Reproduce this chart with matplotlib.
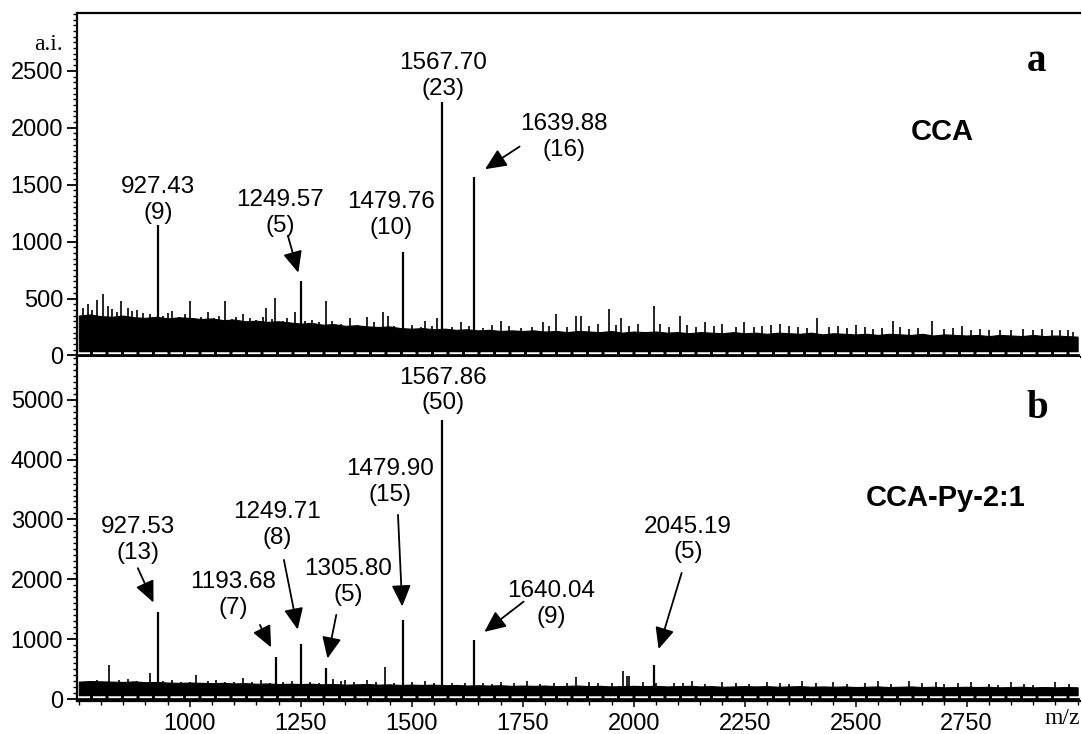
import numpy as np
import matplotlib
matplotlib.use("Agg")
import matplotlib.pyplot as plt
from matplotlib.ticker import FixedLocator, MultipleLocator

plt.rcParams['font.family'] = ['Liberation Sans', 'DejaVu Sans']

# ---------------- data ----------------
# labelled peaks, panel a (CCA)
a_mz = [927.43, 1249.57, 1479.76, 1567.70, 1639.88]
a_int = [1148, 656, 913, 2230, 1572]
a_rel = [9, 5, 10, 23, 16]

# labelled peaks, panel b (CCA-Py-2:1)
b_mz = [927.53, 1193.68, 1249.71, 1305.80, 1479.90, 1567.86, 1640.04, 2045.19]
b_int = [1460, 707, 914, 513, 1321, 4666, 987, 568]
b_rel = [13, 7, 8, 5, 15, 50, 9, 5]

# noise floor envelope, sampled every 25 m/z from 750 to 3000
grid_mz = list(range(750, 3001, 25))
a_noise = [350, 360, 345, 340, 350, 335, 330, 340, 325, 335, 330,
           320, 325, 310, 315, 300, 305, 295, 300, 290, 280,
           285, 270, 275, 260, 265, 255, 250, 255, 240, 235,
           240, 230, 235, 225, 230, 220, 225, 215, 220, 215,
           220, 210, 215, 205, 215, 210, 205, 215, 200, 210,
           205, 210, 200, 205, 195, 205, 200, 195, 205, 195,
           200, 190, 200, 195, 190, 200, 185, 195, 190, 185,
           190, 180, 190, 185, 180, 190, 175, 185, 180, 175,
           180, 170, 180, 175, 170, 180, 170, 175, 170, 165]
b_noise = [290, 300, 295, 290, 285, 295, 280, 285, 275, 270, 275,
           270, 265, 270, 260, 265, 255, 260, 250, 255, 250,
           255, 245, 250, 240, 245, 250, 240, 245, 235, 240,
           235, 240, 230, 235, 225, 230, 225, 230, 220, 225,
           220, 225, 215, 220, 225, 215, 220, 210, 215, 220,
           215, 220, 210, 215, 220, 210, 215, 205, 210, 215,
           210, 215, 205, 210, 215, 205, 210, 205, 210, 200,
           205, 210, 200, 205, 210, 200, 205, 195, 200, 205,
           200, 205, 195, 200, 205, 195, 200, 195, 200, 195]

# unlabelled spikes rising from the noise
a_spk_mz = [760, 770, 780, 790, 805, 815, 825, 835, 846, 860, 870, 880, 895, 910, 940,
            950, 960, 975, 990, 1000, 1010, 1025, 1040, 1055, 1065, 1080, 1095, 1105,
            1120, 1135, 1150, 1165, 1172, 1185, 1193, 1210, 1220, 1237, 1260, 1275,
            1290, 1306, 1320, 1340, 1360, 1380, 1400, 1415, 1436, 1447, 1460, 1500,
            1520, 1530, 1545, 1557, 1590, 1610, 1630, 1660, 1680, 1700, 1720, 1745,
            1770, 1796, 1810, 1826, 1850, 1871, 1881, 1900, 1920, 1944, 1960, 1972,
            1990, 2010, 2045, 2060, 2080, 2104, 2120, 2140, 2160, 2180, 2200, 2230,
            2248, 2270, 2290, 2310, 2330, 2350, 2370, 2390, 2414, 2440, 2460, 2480,
            2500, 2520, 2540, 2560, 2583, 2600, 2620, 2640, 2672, 2700, 2720, 2740,
            2760, 2780, 2800, 2826, 2850, 2877, 2900, 2920, 2943, 2960, 2978, 2990]
a_spk_int = [420, 450, 400, 489, 539, 430, 410, 380, 474, 420, 390, 400, 370, 360, 350,
             370, 390, 340, 360, 474, 330, 340, 380, 330, 350, 480, 320, 340,
             360, 330, 310, 340, 415, 320, 503, 300, 330, 380, 300, 310,
             290, 477, 300, 280, 330, 270, 340, 290, 378, 350, 260, 270,
             250, 300, 260, 327, 250, 290, 260, 240, 270, 300, 260, 240,
             250, 290, 260, 366, 250, 343, 343, 260, 280, 407, 270, 333,
             260, 280, 430, 280, 250, 348, 270, 250, 290, 260, 280, 250,
             298, 250, 260, 270, 280, 260, 250, 240, 333, 250, 260, 240,
             270, 250, 230, 240, 304, 250, 230, 240, 304, 230, 240, 260,
             220, 230, 220, 225, 220, 231, 220, 230, 225, 220, 219, 210]
b_spk_mz = [770, 790, 818, 840, 860, 880, 900, 911, 940, 960, 980, 1000, 1015, 1040,
            1060, 1080, 1100, 1119, 1140, 1160, 1180, 1210, 1230, 1270, 1290, 1322,
            1340, 1350, 1370, 1400, 1420, 1440, 1460, 1500, 1530, 1550, 1590, 1620,
            1660, 1680, 1700, 1730, 1760, 1790, 1820, 1850, 1870, 1900, 1920, 1950,
            1975, 1984, 1990, 2020, 2050, 2090, 2110, 2132, 2160, 2200, 2230, 2260,
            2300, 2330, 2350, 2380, 2410, 2450, 2480, 2520, 2550, 2580, 2620, 2650,
            2680, 2700, 2730, 2760, 2800, 2820, 2850, 2880, 2900, 2950, 2980]
b_spk_int = [300, 310, 560, 320, 330, 300, 290, 430, 300, 320, 290, 280, 400, 300,
             320, 290, 280, 350, 290, 310, 270, 280, 300, 290, 270, 330,
             300, 320, 290, 310, 280, 540, 270, 280, 300, 260, 270, 260,
             270, 250, 290, 260, 300, 250, 260, 270, 370, 280, 260, 270,
             470, 390, 380, 280, 260, 270, 260, 305, 250, 290, 260, 250,
             290, 260, 250, 300, 270, 290, 250, 260, 300, 250, 300, 260,
             290, 250, 260, 290, 250, 240, 280, 250, 240, 290, 250]

# ---------------- layout (label block centres / arrow tails, data units) ----------------
a_text = [(928, 1367), (1203, 1253), (1453, 1235), (1570, 2456), (1842, 1920)]
a_tail = [None, (1221, 1051), None, None, (1743, 1835)]
a_shrink = [0, 6, 0, 0, 9.6]

b_text = [(883, 2659), (1097, 1739), (1196, 2910), (1356, 1957), (1451, 3629),
          (1570, 5150), (1814, 1589), (2122, 2667)]
b_tail = [(883, 2186), (1158, 1237), (1212, 2324), (1330, 1405), (1469, 3077),
          None, (1752, 1627), (2108, 2107)]
b_shrink = [7.2, 7.5, 10.8, 7.2, 9.7, 0, 9.5, 12]

fig = plt.figure(figsize=(10.82, 7.34), dpi=100)
ax1 = fig.add_axes([0.0712, 0.5136, 0.9268, 0.4683])
ax2 = fig.add_axes([0.0712, 0.0454, 0.9268, 0.4682])

XL = (746, 3005)


def draw_panel(ax, noise, spk_mz, spk_int, mz, inten, rel, texts, tails, shrinks,
               white_y):
    ax.fill_between(grid_mz, 0, noise, color='black', lw=0.8, edgecolor='black')
    ax.vlines(spk_mz, 0, spk_int, color='black', lw=1.2)
    ax.vlines(mz, 0, inten, color='black', lw=1.6)
    ax.axhline(white_y, color='white', lw=1.8, dashes=(5, 1.2))
    ax.axhline(0, color='black', lw=1.2)
    for m, r, (tx, ty), tail, s, h in zip(mz, rel, texts, tails, shrinks, inten):
        ax.text(tx, ty, f"{m:.2f}\n({r})", ha='center', va='center',
                fontsize=17.5, linespacing=1.2)
        if tail is not None:
            ax.annotate('', xy=(m, h), xytext=tail,
                        arrowprops=dict(arrowstyle='-|>,head_length=1.0,head_width=0.45',
                                        mutation_scale=13, color='black', lw=1.3,
                                        shrinkA=0, shrinkB=s))
    ax.set_xlim(*XL)
    ax.spines['right'].set_visible(False)
    ax.spines['left'].set_linewidth(1.6)
    ax.tick_params(axis='y', which='major', length=7, width=1.3, direction='out',
                   labelsize=17, pad=3)
    ax.tick_params(axis='y', which='minor', length=3, width=1.0, direction='out')


draw_panel(ax1, a_noise, a_spk_mz, a_spk_int, a_mz, a_int, a_rel, a_text, a_tail,
           a_shrink, 17)
ax1.set_ylim(-14, 3006)
ax1.yaxis.set_major_locator(FixedLocator(np.arange(0, 2501, 500)))
ax1.yaxis.set_minor_locator(MultipleLocator(50))
ax1.spines['top'].set_linewidth(1.6)
ax1.spines['bottom'].set_linewidth(1.6)
ax1.tick_params(axis='x', which='both', bottom=False, top=False, labelbottom=False)

draw_panel(ax2, b_noise, b_spk_mz, b_spk_int, b_mz, b_int, b_rel, b_text, b_tail,
           b_shrink, 28)
ax2.set_ylim(-28, 5714)
ax2.yaxis.set_major_locator(FixedLocator(np.arange(0, 5001, 1000)))
ax2.yaxis.set_minor_locator(MultipleLocator(100))
ax2.spines['top'].set_visible(False)
ax2.spines['bottom'].set_linewidth(1.6)
ax2.xaxis.set_major_locator(FixedLocator(np.arange(1000, 2751, 250)))
ax2.xaxis.set_minor_locator(MultipleLocator(50))
ax2.tick_params(axis='x', which='major', length=4, width=1.1, direction='out',
                labelsize=17, pad=5)
ax2.tick_params(axis='x', which='minor', length=3, width=1.0, direction='out')

# panel labels
ax1.text(2694, 1960, 'CCA', ha='center', va='center', fontsize=21, fontweight='bold')
ax2.text(2702, 3361, 'CCA-Py-2:1', ha='center', va='center', fontsize=21,
         fontweight='bold')
ax1.text(2908, 2500, 'a', ha='center', va='baseline', fontsize=28, fontweight='bold',
         family=['Liberation Serif', 'DejaVu Serif'])
ax2.text(2910, 4700, 'b', ha='center', va='baseline', fontsize=28, fontweight='bold',
         family=['Liberation Serif', 'DejaVu Serif'])

fig.text(63 / 1082, 1 - 44 / 734, 'a.i.', ha='right', va='center', fontsize=17,
         family=['Liberation Serif', 'DejaVu Serif'])
fig.text(1080 / 1082, 1 - 718 / 734, 'm/z', ha='right', va='center', fontsize=17,
         family=['Liberation Serif', 'DejaVu Serif'])

fig.savefig('out.png', dpi=100)
